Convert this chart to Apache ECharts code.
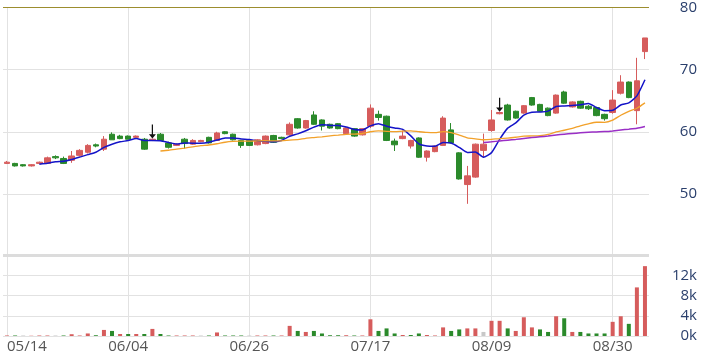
<!DOCTYPE html>
<html><head><meta charset="utf-8">
<script src="https://cdn.jsdelivr.net/npm/echarts@6/dist/echarts.min.js"></script>
<style>html,body{margin:0;padding:0;background:#fff}#c{width:710px;height:357px}</style>
</head><body><div id="c"></div>
<script>
const dates = ['05/14','05/15','05/16','05/17','05/18','05/21','05/22','05/23','05/24','05/25',
'05/28','05/29','05/30','05/31','06/01','06/04','06/05','06/06','06/07','06/08',
'06/11','06/12','06/13','06/14','06/15','06/19','06/20','06/21','06/22','06/25',
'06/26','06/27','06/28','06/29','07/02','07/03','07/04','07/05','07/06','07/09',
'07/10','07/11','07/12','07/13','07/16','07/17','07/18','07/19','07/20','07/23',
'07/24','07/25','07/26','07/27','08/01','08/02','08/03','08/06','08/07','08/08',
'08/09','08/10','08/13','08/14','08/15','08/16','08/17','08/20','08/21','08/22',
'08/23','08/24','08/27','08/28','08/29','08/30','08/31','09/03','09/04','09/05'];
const opens = [54.9,54.9,54.7,54.5,54.9,54.9,56.0,55.7,55.4,56.2,
56.7,57.9,57.2,59.6,59.3,59.3,59.1,58.8,58.6,59.6,
58.2,57.8,58.8,58.0,58.4,59.1,58.6,60.0,59.6,58.6,
58.6,57.9,58.1,59.4,59.1,59.5,62.1,60.6,62.7,61.9,
61.2,61.3,59.7,60.5,59.5,60.9,62.8,62.5,58.5,58.9,
57.7,59.0,55.9,56.8,57.8,60.3,56.6,51.5,52.7,57.0,
60.2,62.9,64.3,63.3,63.0,65.5,64.4,63.8,63.0,66.4,
64.0,64.9,64.1,63.9,62.8,63.1,66.2,68.0,63.4,72.9];
const closes = [55.1,54.5,54.5,54.7,55.1,55.8,55.8,54.9,56.1,57.0,
57.8,57.7,58.8,58.7,58.9,58.8,59.3,57.2,58.8,58.6,
57.5,58.0,58.1,58.6,58.6,58.2,59.8,59.7,58.7,57.8,
57.8,58.7,59.3,58.3,58.9,61.2,60.6,61.8,61.2,60.9,
60.6,60.5,60.6,59.3,60.5,63.8,62.3,58.6,57.9,59.3,
58.6,55.9,56.9,57.7,62.2,58.2,52.4,52.9,58.0,58.0,
61.9,63.1,61.9,62.2,64.2,64.3,63.3,62.6,65.9,64.6,
64.8,63.8,63.7,62.6,62.1,65.1,68.0,65.5,68.2,75.1];
const lows = [54.8,54.4,54.4,54.4,54.8,54.8,55.6,54.8,55.0,56.0,
56.5,57.5,56.9,58.7,58.8,58.8,59.0,57.1,58.5,58.5,
57.3,57.7,57.3,57.9,58.3,58.1,58.5,59.6,58.6,57.4,
57.7,57.8,58.0,58.2,58.8,59.4,60.5,60.5,61.1,60.2,
60.5,60.4,59.6,59.2,59.4,60.6,61.8,58.5,56.9,58.8,
57.3,55.8,55.2,56.7,57.7,58.1,52.3,48.4,52.6,55.8,
60.0,62.8,61.8,62.1,62.9,64.2,63.2,62.5,62.9,64.5,
63.9,63.7,63.5,62.5,61.8,62.9,66.0,65.4,61.2,71.7];
const highs = [55.3,55.0,54.8,54.8,55.2,56.0,56.2,56.0,56.9,57.2,
58.0,58.1,59.3,59.9,59.5,59.4,59.4,59.0,58.9,59.8,
58.4,58.1,59.0,58.8,58.7,59.2,60.0,60.1,59.7,58.7,
58.7,58.8,59.4,59.5,59.2,61.5,62.2,61.9,63.3,62.0,
61.3,61.4,60.7,60.6,60.6,64.4,63.4,62.6,58.9,60.2,
58.7,59.1,57.0,57.8,62.5,61.4,56.7,54.5,58.1,59.7,
63.5,63.2,64.5,63.4,64.3,65.6,64.5,63.9,66.0,66.6,
64.9,65.0,64.3,64.0,62.9,66.7,69.1,68.1,71.9,75.1];
const volumes = [100,100,100,50,100,100,100,100,350,100,
500,150,1200,1000,400,400,400,400,1400,400,
100,100,100,100,100,100,700,100,100,100,
100,100,100,100,100,2000,1000,800,1000,500,
150,150,150,100,100,3300,1000,1500,500,200,
200,500,200,100,1700,1000,1300,1500,1500,800,
3000,3000,1500,1000,3700,1700,1300,800,3900,3500,
800,800,500,500,500,2800,3900,2400,9600,13800];
const arrowIdx = [18, 61];
const labelIdx = [0, 15, 30, 45, 60, 75];
const priceTicks = {min: 40, max: 80, interval: 10};
const volTicks = {min: 0, max: 16000, interval: 4000};
const topLine = 80;

const UP = '#d65c5c', DOWN = '#2b8a2b', FLAT = '#c8c8c8';
const candleData = dates.map((d, i) => [opens[i], closes[i], lows[i], highs[i]]);
function ma(n) {
  return closes.map((c, i) => {
    if (i < n - 1) return '-';
    let s = 0; for (let k = i - n + 1; k <= i; k++) s += closes[k];
    return +(s / n).toFixed(3);
  });
}
const volData = volumes.map((v, i) => {
  let col;
  if (i === 0) col = closes[i] >= opens[i] ? UP : DOWN;
  else col = closes[i] > closes[i - 1] ? UP : (closes[i] < closes[i - 1] ? DOWN : FLAT);
  return {value: v, itemStyle: {color: col}};
});
const vLines = labelIdx.map(i => ({xAxis: dates[i]}));
const gridLineCol = '#e2e2e2';
const font = 'Open Sans, Liberation Sans, sans-serif';

const chart = echarts.init(document.getElementById('c'), null, {renderer: 'canvas'});
chart.setOption({
  animation: false,
  backgroundColor: '#fff',
  grid: [
    {left: 3, right: 61, top: 5, bottom: 101},
    {left: 3, right: 61, top: 255, bottom: 21}
  ],
  xAxis: [
    {type: 'category', gridIndex: 0, data: dates, boundaryGap: true,
     axisLine: {show: false}, axisTick: {show: false}, axisLabel: {show: false}, splitLine: {show: false}},
    {type: 'category', gridIndex: 1, data: dates, boundaryGap: true,
     axisLine: {show: false}, axisTick: {show: false}, splitLine: {show: false},
     axisLabel: {interval: 14, color: '#555', fontSize: 15, fontFamily: font, margin: 3,
                 alignMinLabel: 'left'}}
  ],
  yAxis: [
    {type: 'value', gridIndex: 0, position: 'right', min: priceTicks.min, max: priceTicks.max,
     interval: priceTicks.interval, axisLine: {show: false}, axisTick: {show: false},
     splitLine: {lineStyle: {color: gridLineCol}},
     axisLabel: {color: '#2a3f6c', fontSize: 15, fontFamily: font, align: 'right', margin: 48,
                 formatter: v => v === priceTicks.min ? '' : String(v)}},
    {type: 'value', gridIndex: 1, position: 'right', min: volTicks.min, max: volTicks.max,
     interval: volTicks.interval, axisLine: {show: false}, axisTick: {show: false},
     splitLine: {lineStyle: {color: gridLineCol}},
     axisLabel: {color: '#2a3f6c', fontSize: 15, fontFamily: font, align: 'right', margin: 48,
                 formatter: v => v === volTicks.max ? '' : (v / 1000) + 'k'}}
  ],
  series: [
    {type: 'candlestick', xAxisIndex: 0, yAxisIndex: 0, data: candleData, barWidth: 6,
     itemStyle: {color: UP, color0: DOWN, borderColor: UP, borderColor0: DOWN, borderWidth: 1},
     markLine: {silent: true, symbol: 'none', z: 1, label: {show: false},
       lineStyle: {color: gridLineCol, width: 1, type: 'solid'}, data: vLines},
     markPoint: {silent: true, symbol: 'path://M4.3,0 L5.7,0 L5.7,11 L9,11 L5,16 L1,11 L4.3,11 Z',
       symbolSize: [7, 14], symbolOffset: [0, '-50%'], label: {show: false},
       itemStyle: {color: '#111'},
       data: arrowIdx.map(i => ({coord: [dates[i], highs[i]]}))}},
    {type: 'line', xAxisIndex: 0, yAxisIndex: 0, data: ma(5), showSymbol: false, smooth: 0.2,
     lineStyle: {color: '#1414c8', width: 1.5}, z: 3,
     markLine: {silent: true, symbol: 'none', label: {show: false},
       lineStyle: {color: '#9c8d2e', width: 1.2, type: 'solid'}, data: [{yAxis: topLine}]}},
    {type: 'line', xAxisIndex: 0, yAxisIndex: 0, data: ma(20), showSymbol: false, smooth: 0.2,
     lineStyle: {color: '#f2a12a', width: 1.3}, z: 3},
    {type: 'line', xAxisIndex: 0, yAxisIndex: 0, data: ma(60), showSymbol: false, smooth: 0.2,
     lineStyle: {color: '#9a2fc6', width: 1.5}, z: 3},
    {type: 'bar', xAxisIndex: 1, yAxisIndex: 1, data: volData, barWidth: 4,
     markLine: {silent: true, symbol: 'none', z: 1, label: {show: false},
       lineStyle: {color: gridLineCol, width: 1, type: 'solid'},
       data: vLines.concat([{yAxis: volTicks.max, lineStyle: {color: '#dcdcdc', width: 3}}])}}
  ]
});
</script></body></html>
